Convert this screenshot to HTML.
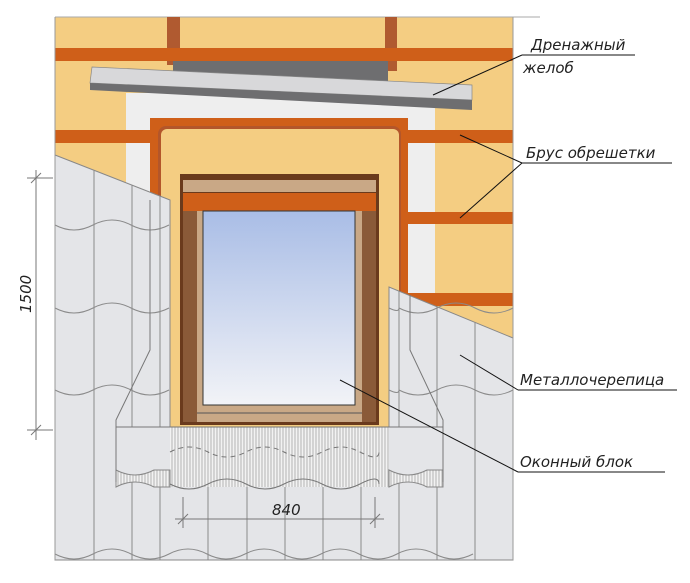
<!DOCTYPE html>
<html><head><meta charset="utf-8"><style>
html,body{margin:0;padding:0;background:#fff}
svg{display:block}
text{font-family:"DejaVu Sans","Liberation Sans",sans-serif;font-style:oblique;font-size:15px;fill:#222}
</style></head><body>
<svg width="690" height="583" viewBox="0 0 690 583" xmlns="http://www.w3.org/2000/svg">
<defs>
<pattern id="hatch" width="3" height="10" patternUnits="userSpaceOnUse"><rect width="3" height="10" fill="#f2f2f2"/><line x1="1" y1="0" x2="1" y2="10" stroke="#999" stroke-width="0.7"/></pattern>
<linearGradient id="glass" x1="0" y1="0" x2="0" y2="1"><stop offset="0" stop-color="#a9bde6"/><stop offset="1" stop-color="#f2f3f7"/></linearGradient>
</defs>
<!-- background wall -->
<rect x="55" y="17" width="458" height="543" fill="#f4cd82"/>
<line x1="55" y1="17" x2="540" y2="17" stroke="#aaa" stroke-width="1"/>
<!-- insulation -->
<rect x="126" y="93" width="309" height="200" fill="#eeeeee"/>
<!-- battens -->
<rect x="167" y="17" width="13" height="48" fill="#b05a30"/>
<rect x="385" y="17" width="12" height="54" fill="#b05a30"/>
<rect x="55" y="48" width="458" height="13" fill="#cf5f19"/>
<rect x="55" y="130" width="458" height="13" fill="#cf5f19"/>
<rect x="408" y="212" width="105" height="12" fill="#cf5f19"/>
<rect x="400" y="293" width="113" height="13" fill="#cf5f19"/>
<!-- gutter -->
<rect x="173" y="61" width="215" height="32" fill="#6e6e70"/>
<polygon points="92,67 472,85 472,100 90,83" fill="#d8d8da" stroke="#888" stroke-width="0.7"/>
<polygon points="90,83 472,100 472,110 90,90" fill="#6e6e70"/>
<!-- opening frame -->
<rect x="150" y="118" width="258" height="310" fill="#cf5f19"/>
<rect x="158" y="126" width="243" height="302" rx="8" fill="#b3562a"/>
<rect x="161" y="129" width="238" height="300" rx="6" fill="#f4cd82"/>
<!-- window -->
<rect x="180" y="174" width="199" height="251" fill="#6a3a1c"/>
<rect x="183" y="180" width="193" height="12" fill="#c9a886"/>
<rect x="183" y="193" width="193" height="18" fill="#cf5f19"/>
<rect x="183" y="211" width="14" height="211" fill="#8a5a38"/>
<rect x="362" y="211" width="14" height="211" fill="#8a5a38"/>
<rect x="197" y="211" width="165" height="211" fill="#c9a886"/>
<rect x="203" y="211" width="152" height="194" fill="url(#glass)" stroke="#333" stroke-width="1"/>
<line x1="197" y1="413" x2="362" y2="413" stroke="#555" stroke-width="1"/>
<!-- tiles -->
<g fill="#e4e5e8" stroke="#888" stroke-width="1">
<polygon points="55,155 170,200 170,427 389,427 389,287 513,338 513,560 55,560"/>
</g>
<g stroke="#8a8a8a" stroke-width="1" fill="none">
<line x1="94" y1="170" x2="94" y2="560"/><line x1="132" y1="185" x2="132" y2="560"/><line x1="160" y1="196" x2="160" y2="560"/>
<line x1="208" y1="427" x2="208" y2="560"/><line x1="247" y1="427" x2="247" y2="560"/><line x1="285" y1="427" x2="285" y2="560"/>
<line x1="323" y1="427" x2="323" y2="560"/><line x1="361" y1="427" x2="361" y2="560"/><line x1="399" y1="291" x2="399" y2="560"/>
<line x1="437" y1="306" x2="437" y2="560"/><line x1="475" y1="322" x2="475" y2="560"/>
<path d="M55,225 q19,10 38,0 t38,0 t38,0"/>
<path d="M55,308 q19,10 38,0 t38,0 t38,0 M389,308 q10,5 10,0 q19,10 38,0 t38,0 t38,0"/>
<path d="M55,390 q19,10 38,0 t38,0 t38,0 M389,390 q10,5 10,0 q19,10 38,0 t38,0 t38,0"/>
<path d="M55,554 q19,10 38,0 t38,0 t38,0 t38,0 t38,0 t38,0 t38,0 t38,0 t38,0 t38,0 t38,0"/>
</g>
<!-- flashing -->
<polygon points="116,427 443,427 443,482 116,482" fill="#e4e5e8"/>
<rect x="170" y="427" width="219" height="60" fill="url(#hatch)"/>
<path d="M116,470 q19,10 38,0 l16,0 l0,17 l-16,0 q-19,-10 -38,0z" fill="url(#hatch)" stroke="#888"/>
<path d="M389,470 q19,10 38,0 l16,0 l0,17 l-16,0 q-19,-10 -38,0z" fill="url(#hatch)" stroke="#888"/>
<g stroke="#777" stroke-width="1" fill="none">
<path d="M150,200 L150,350 L116,420 L116,482 M410,295 L410,350 L443,420 L443,482"/>
<line x1="116" y1="427" x2="443" y2="427"/>
<path d="M170,452 q19,-10 38,0 t38,0 t38,0 t38,0 t38,0 t19,0" stroke-dasharray="5,4"/>
<path d="M170,484 q19,10 38,0 t38,0 t38,0 t38,0 t38,0 t19,0" />
</g>
<line x1="55" y1="17" x2="55" y2="560" stroke="#999"/>
<line x1="513" y1="17" x2="513" y2="560" stroke="#999"/>
<!-- dimensions -->
<g stroke="#777" stroke-width="1">
<line x1="36" y1="170" x2="36" y2="440"/>
<line x1="27" y1="178" x2="53" y2="178"/><line x1="27" y1="430" x2="53" y2="430"/>
<line x1="31" y1="183" x2="41" y2="173"/><line x1="31" y1="435" x2="41" y2="425"/>
<line x1="175" y1="519" x2="384" y2="519"/>
<line x1="183" y1="497" x2="183" y2="528"/><line x1="375" y1="497" x2="375" y2="528"/>
<line x1="178" y1="524" x2="188" y2="514"/><line x1="370" y1="524" x2="380" y2="514"/>
</g>
<text x="272" y="515" font-size="16">840</text>
<text transform="translate(31,313) rotate(-90)" font-size="16">1500</text>
<!-- leaders -->
<g stroke="#111" stroke-width="1">
<line x1="433" y1="95" x2="522" y2="55"/><line x1="522" y1="55" x2="635" y2="55"/>
<line x1="460" y1="135" x2="522" y2="163"/><line x1="460" y1="218" x2="522" y2="163"/><line x1="522" y1="163" x2="672" y2="163"/>
<line x1="460" y1="355" x2="518" y2="390"/><line x1="518" y1="390" x2="677" y2="390"/>
<line x1="340" y1="380" x2="518" y2="472"/><line x1="518" y1="472" x2="665" y2="472"/>
</g>
<text x="531" y="50">Дренажный</text>
<text x="523" y="73">желоб</text>
<text x="526" y="158">Брус обрешетки</text>
<text x="520" y="385">Металлочерепица</text>
<text x="520" y="467">Оконный блок</text>
</svg>
</body></html>
